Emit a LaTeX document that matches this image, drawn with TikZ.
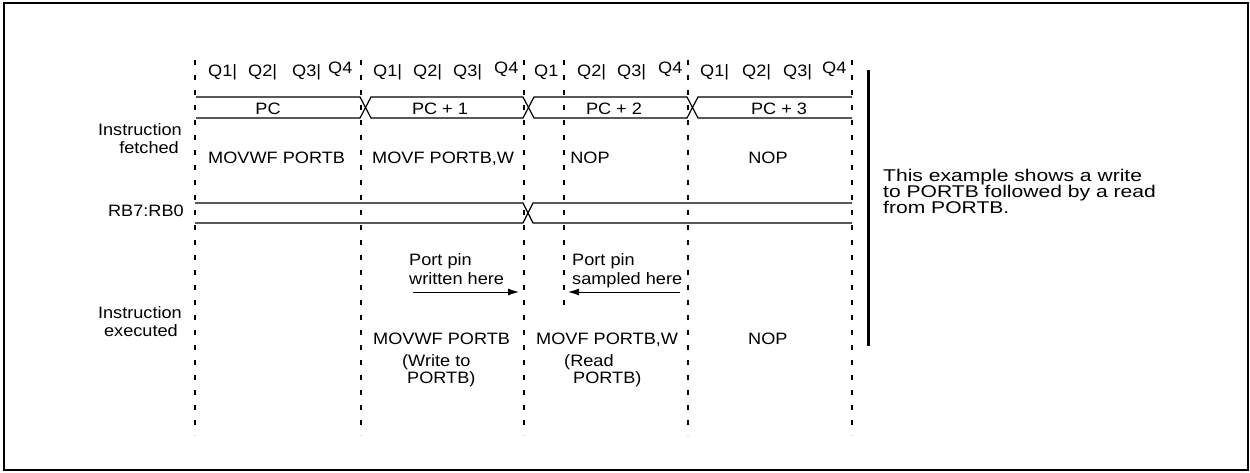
\documentclass[tikz,border=0pt]{standalone}
\usepackage{fontspec}
\setmainfont{Liberation Sans}[FakeStretch=1.1]
\newfontfamily\descfont{Liberation Sans}[FakeStretch=1.24]
\usetikzlibrary{arrows.meta}
\begin{document}
\begin{tikzpicture}[x=1pt,y=-1pt,
  txt/.style={inner sep=0pt,font=\fontsize{16.5}{18}\selectfont},
  lt/.style={txt,anchor=base west},
  rt/.style={txt,anchor=base east},
  ct/.style={txt,anchor=base},
  desc/.style={inner sep=0pt,anchor=base west,font=\descfont\fontsize{17}{16}\selectfont},
  dashline/.style={line width=2pt,dash pattern=on 5pt off 10pt},
  bus/.style={line width=1.2pt,line join=miter},
  pinarrow/.style={line width=1pt,-{Latex[length=11pt,width=7pt]}}]
\useasboundingbox (0,0) rectangle (1250,472);
\draw[line width=2pt] (4,3) rectangle (1248,470);
% dashed cycle boundaries
\foreach \x in {195,361,524,688,852} \draw[dashline] (\x,60) -- (\x,435);
\draw[dashline] (564,60) -- (564,307);
% Q labels
\foreach \q/\x in {1/208,2/248,3/292,1/373,2/413,3/453,2/577,3/617,1/700,2/742,3/783}
  \node[lt] (q\x) at (\x,76) {Q\q|};
\node[lt] (q534) at (534,76) {Q1};
\foreach \x in {328,494,658,822} \node[lt] (q\x) at (\x,73) {Q4};
% PC bus
\draw[bus] (196,97) -- (360,97) -- (365.5,107.5) -- (360,118) -- (196,118);
\draw[bus] (365.5,107.5) -- (371,97) -- (523,97) -- (528.5,107.5) -- (523,118) -- (371,118) -- cycle;
\draw[bus] (528.5,107.5) -- (534,97) -- (687,97) -- (692.5,107.5) -- (687,118) -- (534,118) -- cycle;
\draw[bus] (852,97) -- (698,97) -- (692.5,107.5) -- (698,118) -- (852,118);
\node[ct] (pc0) at (268,114) {PC};
\node[ct] (pc1) at (440,114) {PC + 1};
\node[ct] (pc2) at (614,114) {PC + 2};
\node[ct] (pc3) at (779,114) {PC + 3};
% RB bus
\draw[bus] (195,203) -- (523,203) -- (528,213) -- (523,223) -- (195,223);
\draw[bus] (852,203) -- (533,203) -- (528,213) -- (533,223) -- (852,223);
% left labels
\node[rt] (if1) at (182,135) {Instruction};
\node[rt] (if2) at (179,153) {fetched};
\node[rt] (rb) at (184,216) {RB7:RB0};
\node[rt] (ie1) at (182,318) {Instruction};
\node[rt] (ie2) at (178,336) {executed};
% fetched row
\node[lt] (f1) at (208,163) {MOVWF PORTB};
\node[lt] (f2) at (372,163) {MOVF PORTB,W};
\node[ct] (f3) at (590,163) {NOP};
\node[ct] (f4) at (768,163) {NOP};
% port pin notes
\node[lt] (w1) at (409,265) {Port pin};
\node[lt] (w2) at (409,284) {written here};
\node[lt] (s1) at (572,265) {Port pin};
\node[lt] (s2) at (572,284) {sampled here};
\coordinate (wa) at (413,292);
\coordinate (wb) at (519,292);
\coordinate (sa) at (680,292);
\coordinate (sb) at (568,292);
\draw[pinarrow] (wa) -- (wb);
\draw[pinarrow] (sa) -- (sb);
% executed row
\node[lt] (e1) at (373,344) {MOVWF PORTB};
\node[lt] (e1b) at (402,366) {(Write to};
\node[lt] (e1c) at (407,383) {PORTB)};
\node[lt] (e2) at (536,344) {MOVF PORTB,W};
\node[lt] (e2b) at (564,366) {(Read};
\node[lt] (e2c) at (573,383) {PORTB)};
\node[lt] (e3) at (748,344) {NOP};
% side bar and description
\draw[line width=3pt] (868,70) -- (868,346);
\node[desc] (d1) at (883,181) {This example shows a write};
\node[desc] (d2) at (883,197) {to PORTB followed by a read};
\node[desc] (d3) at (883,213) {from PORTB.};
\end{tikzpicture}
\end{document}
